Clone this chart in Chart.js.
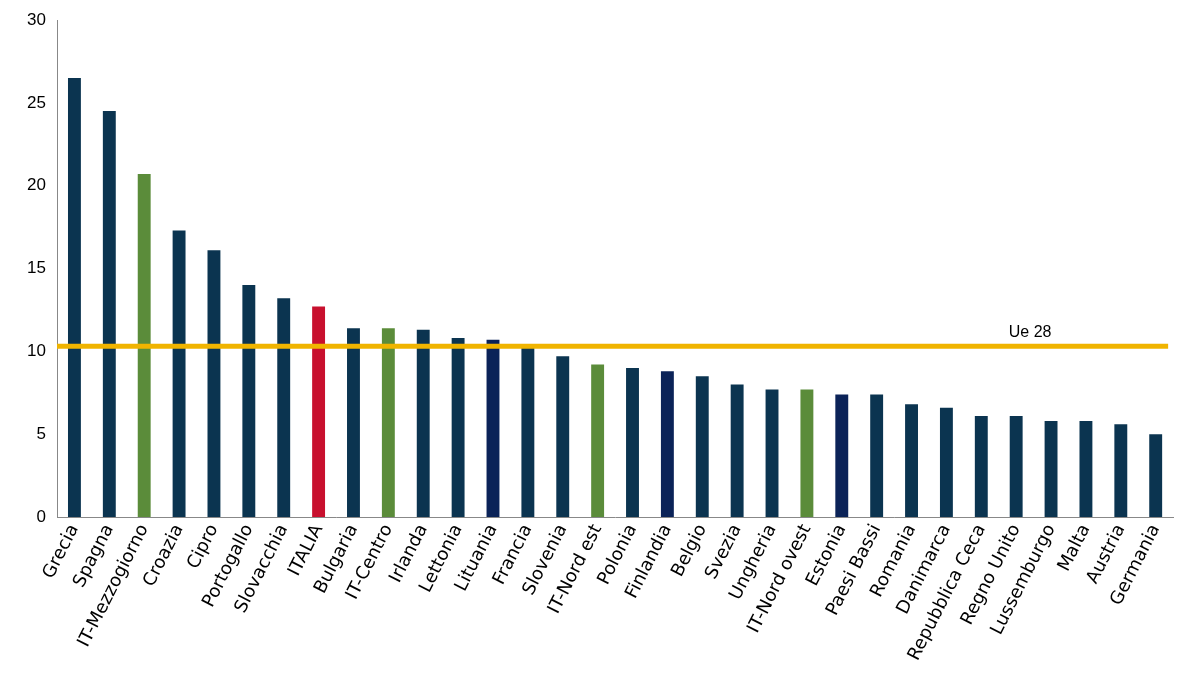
<!DOCTYPE html>
<html><head><meta charset="utf-8">
<script src="https://cdn.jsdelivr.net/npm/chart.js@4"></script>
<style>html,body{margin:0;background:#fff}#wrap{width:1179px;height:698px}</style>
</head><body><div id="wrap"><canvas id="c"></canvas></div>
<script>
const labels = ["Grecia","Spagna","IT-Mezzogiorno","Croazia","Cipro","Portogallo","Slovacchia","ITALIA","Bulgaria","IT-Centro","Irlanda","Lettonia","Lituania","Francia","Slovenia","IT-Nord est","Polonia","Finlandia","Belgio","Svezia","Ungheria","IT-Nord ovest","Estonia","Paesi Bassi","Romania","Danimarca","Repubblica Ceca","Regno Unito","Lussemburgo","Malta","Austria","Germania"];
const values = [26.5,24.5,20.7,17.3,16.1,14.0,13.2,12.7,11.4,11.4,11.3,10.8,10.7,10.3,9.7,9.2,9.0,8.8,8.5,8.0,7.7,7.7,7.4,7.4,6.8,6.6,6.1,6.1,5.8,5.8,5.6,5.0];
const kinds = ["eu","eu","it","eu","eu","eu","eu","ita","eu","it","eu","eu","nv","eu","eu","it","eu","nv","eu","eu","eu","it","nv","eu","eu","eu","eu","eu","eu","eu","eu","eu"];
const euAverage = 10.3;
const palette = {eu:"#0b3450", it:"#5b8c3a", ita:"#c8102e", nv:"#0b2358"};
const font = "'Liberation Sans', Arial, sans-serif";

const avgLine = {
  id: "avgLine",
  afterDatasetsDraw(chart) {
    const {ctx, chartArea, scales} = chart;
    const y = scales.y.getPixelForValue(euAverage);
    ctx.save();
    ctx.strokeStyle = "#f0b400";
    ctx.lineWidth = 5;
    ctx.beginPath();
    ctx.moveTo(chartArea.left, y);
    ctx.lineTo(chartArea.right - 5, y);
    ctx.stroke();
    ctx.fillStyle = "#000";
    ctx.font = "16px " + font;
    ctx.textAlign = "center";
    ctx.fillText("Ue 28", scales.x.getPixelForValue(27.4), y - 9);
    ctx.restore();
  }
};

new Chart(document.getElementById("c"), {
  type: "bar",
  data: { labels, datasets: [{ data: values, backgroundColor: kinds.map(k => palette[k]), categoryPercentage: 1, barPercentage: 0.37 }] },
  options: {
    responsive: true, maintainAspectRatio: false, animation: false,
    layout: { padding: { top: 20, right: 4 } },
    plugins: { legend: { display: false }, tooltip: { enabled: false } },
    scales: {
      x: {
        grid: { display: false, drawTicks: false },
        border: { color: "#888" },
        afterFit(s) { s.height = 181; },
        ticks: { color: "#000", maxRotation: 63, minRotation: 63, autoSkip: false, padding: 4,
                 font: { family: "'DejaVu Sans', Verdana, sans-serif", size: 18 } }
      },
      y: {
        min: 0, max: 30,
        grid: { display: false, drawTicks: true, tickLength: 5, color: "#888" },
        border: { color: "#888" },
        afterFit(s) { s.width = 57; },
        ticks: { stepSize: 5, color: "#000", padding: 6,
                 font: { family: font, size: 17 } }
      }
    }
  },
  plugins: [avgLine]
});
</script></body></html>
